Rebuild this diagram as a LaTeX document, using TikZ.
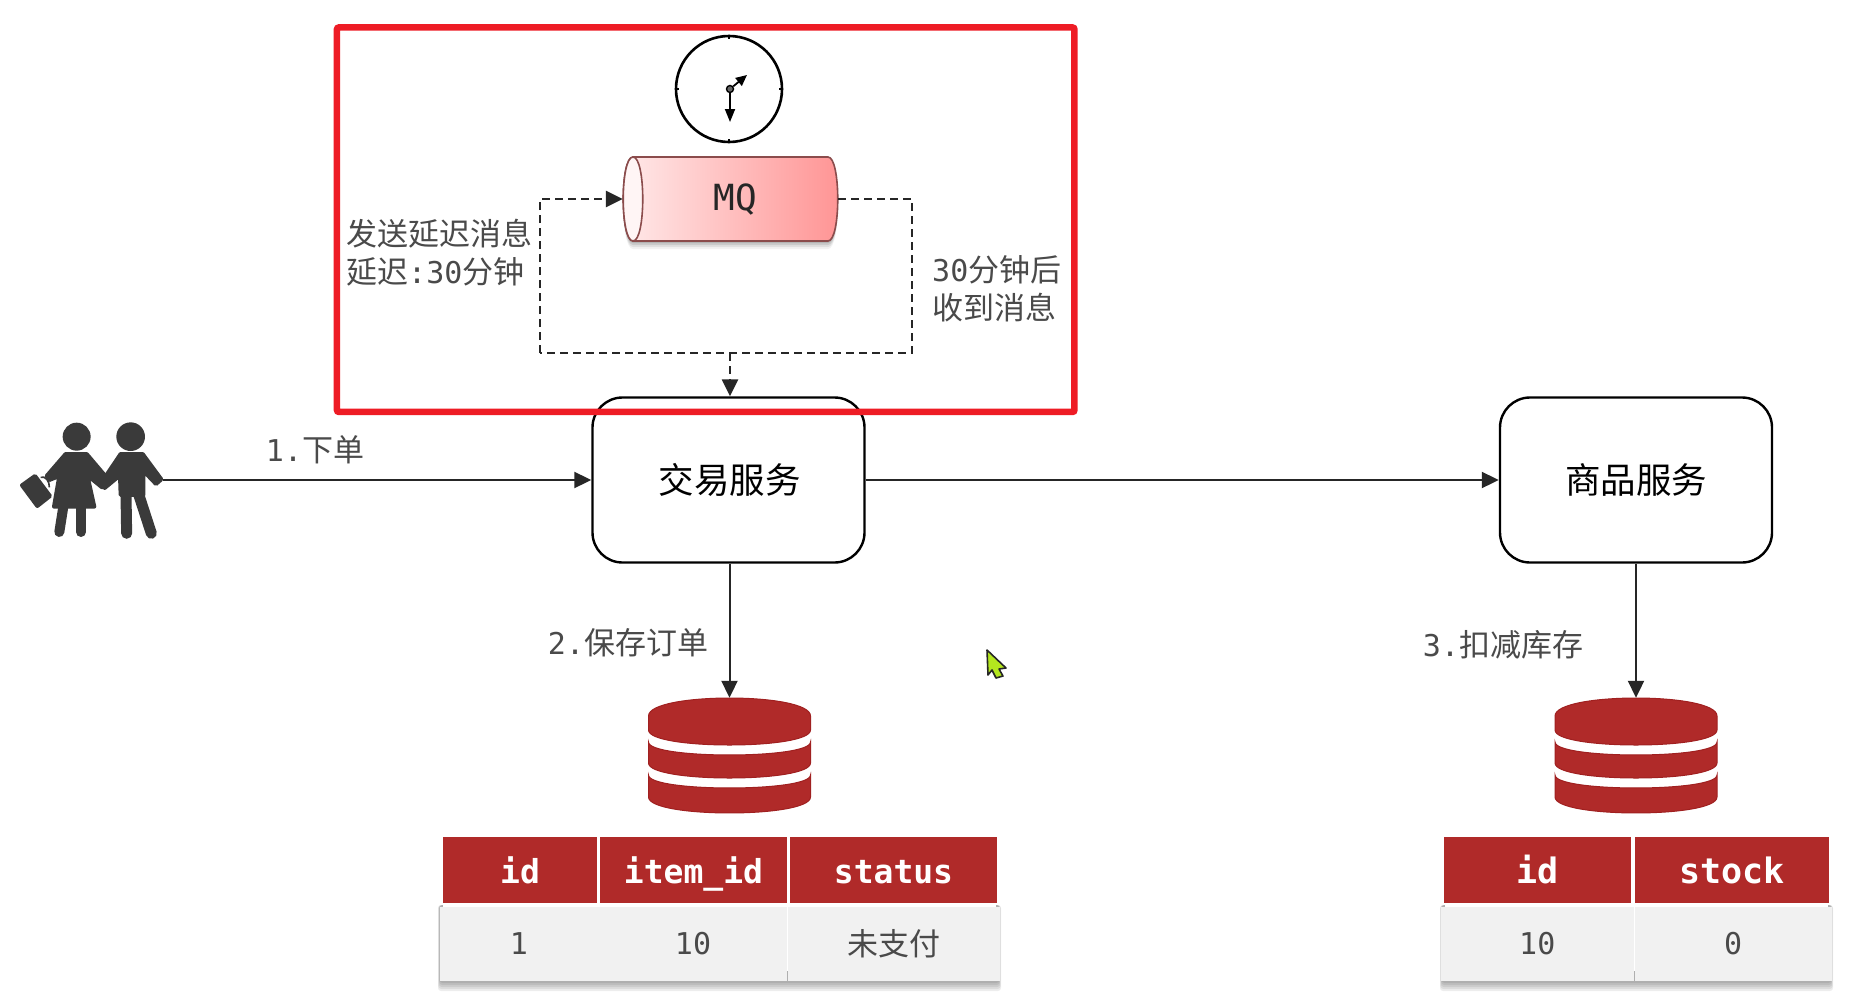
\documentclass[tikz,border=0pt]{standalone}
\usepackage{fontspec}
\setmainfont{Noto Sans CJK SC}
\newfontfamily\monof{DejaVu Sans Mono}
\usetikzlibrary{arrows.meta}
\definecolor{dbred}{HTML}{B02A29}
\definecolor{dbedge}{HTML}{A02020}
\definecolor{framered}{HTML}{EE1C25}
\definecolor{labelgrey}{HTML}{4A4A4A}
\definecolor{rowgrey}{HTML}{F1F1F1}
\definecolor{iconink}{HTML}{3A3A3A}
\definecolor{pointergreen}{HTML}{B4E61E}
\newcommand{\ml}[1]{{\monof\fontsize{30}{36}\selectfont #1}}
\newcommand{\dbshape}{%
  \path[dbslice] (-81,18) .. controls (-81,-6) and (81,-6) .. (81,18) -- (81,32) .. controls (81,52) and (-81,52) .. (-81,32) -- cycle;
  \path[dbslice] (-81,44) .. controls (-81,61.3) and (81,61.3) .. (81,44) -- (81,65) .. controls (81,85) and (-81,85) .. (-81,65) -- cycle;
  \path[dbslice] (-81,77) .. controls (-81,94.3) and (81,94.3) .. (81,77) -- (81,99) .. controls (81,120.3) and (-81,120.3) .. (-81,99) -- cycle;
}
\newcommand{\tblshadow}[4]{%
  \foreach \g in {10,8,6,4,2}{
    \fill[black,opacity=.07,rounded corners=3] (#1+1-\g*.2,#2+68) rectangle (#3-1+\g*.2,#4+\g);
  }
  \fill[white] (#1+4,#2+68) rectangle (#3-4,#4-10);
}
\tikzset{
  x=1pt,y=-1pt,
  service/.style={draw=black,line width=2.4pt,rounded corners=30pt,fill=white,minimum width=272pt,minimum height=165pt,inner sep=0pt,font=\fontsize{35.5}{42}\selectfont},
  flow/.style={draw=black!85,line width=2pt,-{Triangle[length=17pt,width=16pt]}},
  dflow/.style={flow,line width=2.5pt,dash pattern=on 8pt off 5pt},
  dline/.style={draw=black!85,line width=2.5pt,dash pattern=on 8pt off 5pt},
  lbl/.style={text=labelgrey,inner sep=0pt,font=\fontsize{31}{38}\selectfont},
  hcell/.style={fill=dbred,draw=none,text=white,inner sep=0pt,text height=30pt,text depth=3pt,font=\monof\bfseries\fontsize{33}{38}\selectfont},
  hcellb/.style={hcell,font=\monof\bfseries\fontsize{35}{40}\selectfont},
  bcell/.style={fill=rowgrey,draw=none,text=labelgrey,inner sep=0pt,font=\monof\fontsize{30}{36}\selectfont},
  dbslice/.style={fill=dbred,draw=dbedge,line width=1pt},
  ink/.style={fill=iconink,draw=iconink,line width=4pt,line join=round},
  limb/.style={draw=iconink,line cap=round},
}
\begin{document}
\begin{tikzpicture}
\useasboundingbox (0,0) rectangle (1861,996);
\fill[white] (0,0) rectangle (1861,996);

% services
\node[service] (trade) at (728.5,480) {\hspace{2pt}\raisebox{2.5pt}{交易服务}};
\node[service] (item) at (1636,480) {\raisebox{2.5pt}{商品服务}};

% red frame
\node[draw=framered,line width=6.5pt,rounded corners=2pt,minimum width=737.5pt,minimum height=384.5pt,inner sep=0pt] (frame) at (705.7,219.7) {};

% clock
\node[circle,draw=black,line width=2.6pt,minimum size=106pt,inner sep=0pt] (clock) at (729,89) {};
\draw[line width=1.2pt] (clock.north) -- ++(0,4);
\draw[line width=1.2pt] (clock.south) -- ++(0,-4);
\draw[line width=1.2pt] (clock.west) -- ++(4,0);
\draw[line width=1.2pt] (clock.east) -- ++(-4,0);
\node[circle,draw=black,fill=black!60,line width=1.4pt,minimum size=7pt,inner sep=0pt] (pivot) at (730,89) {};
\coordinate (hourtip) at (747,75);
\coordinate (minutetip) at (730,122);
\draw[line width=1.8pt,-{Triangle[length=11pt,width=10pt]}] (pivot) -- (hourtip);
\draw[line width=1.8pt,-{Triangle[length=13pt,width=10pt]}] (pivot) -- (minutetip);

% MQ cylinder
\foreach \d/\o in {8/.05,6/.07,4/.09,2/.11}{
  \fill[black,opacity=\o] (633,157+\d) -- (828,157+\d) .. controls (841,157+\d) and (841,241+\d) .. (828,241+\d) -- (633,241+\d) .. controls (620,241+\d) and (620,157+\d) .. (633,157+\d) -- cycle;
}
\path[left color=red!8,right color=red!42!white,draw=red!35!black!70,line width=1.6pt]
  (633,157) -- (828,157) .. controls (841,157) and (841,241) .. (828,241) -- (633,241) .. controls (620,241) and (620,157) .. (633,157) -- cycle;
\path[fill=red!4,draw=red!35!black!70,line width=1.6pt]
  (633,157) .. controls (646,157) and (646,241) .. (633,241) .. controls (620,241) and (620,157) .. (633,157) -- cycle;
\node[minimum width=215pt,minimum height=84pt,inner sep=0pt] (mq) at (730.5,199) {};
\node[inner sep=0pt,text=black!85,font=\monof\fontsize{36}{40}\selectfont] (mqtext) at (735,200) {MQ};

% dashed loop
\coordinate (loopL) at (540,353);
\coordinate (loopR) at (912,353);
\coordinate (loopM) at (730,353);
\draw[dflow] (loopL) -- (loopL |- mq.west) -- (mq.west);
\draw[dline] (mq.east) -- (loopR |- mq.east) -- (loopR) -- (loopL);
\draw[dflow] (loopM) -- (trade.north -| loopM);

% labels in frame
\node[lbl,align=left,anchor=north west] (sendlbl) at (346,219) {发送延迟消息\\延迟\ml{:30}分钟};
\node[lbl,align=left,anchor=north west] (recvlbl) at (932,255) {\ml{30}分钟后\\收到消息};

% person icon
\begin{scope}[shift={(0,400)},x=0.3333pt,y=-0.3333pt]
  \fill[iconink] (230,110) circle (42);
  \fill[iconink] (392,110) circle (43);
  \path[ink] (197,162) -- (260,162) -- (316,228) -- (306,262) -- (262,226) -- (283,320) -- (162,320) -- (178,228) -- (148,240) -- (140,228) -- cycle;
  \draw[limb,line width=10pt] (190,320) -- (178,396);
  \draw[limb,line width=10pt] (243,320) -- (243,396);
  \path[ink] (362,162) -- (428,162) -- (484,238) -- (468,252) -- (430,212) -- (430,285) -- (362,285) -- (360,226) -- (314,264) -- (304,248) -- cycle;
  \draw[limb,line width=11pt] (378,280) -- (380,400);
  \draw[limb,line width=11pt] (415,280) -- (454,400);
  \path[ink] (105,228) -- (150,288) -- (112,318) -- (66,256) -- cycle;
  \draw[draw=iconink,line width=1.6pt] (122,232) .. controls (135,226) and (150,245) .. (148,262);
\end{scope}
\coordinate (person) at (163,480);

% arrows
\draw[flow] (person) -- (trade.west);
\draw[flow] (trade.east) -- (item.west);
\node[lbl] (l1) at (315,450) {\ml{1.}下单};

% databases
\node[minimum width=162pt,minimum height=115pt,inner sep=0pt] (db1) at (729.5,755.5) {};
\node[minimum width=162pt,minimum height=115pt,inner sep=0pt] (db2) at (1636,755.5) {};
\begin{scope}[shift={(729.5,698)}]\dbshape\end{scope}
\begin{scope}[shift={(1636,698)}]\dbshape\end{scope}
\draw[flow] (trade.south -| db1) -- (db1.north);
\draw[flow] (item.south) -- (db2.north);
\node[lbl] (l2) at (628,643) {\ml{2.}保存订单};
\node[lbl] (l3) at (1503,645) {\ml{3.}扣减库存};

% table 1
\tblshadow{439}{837}{1000}{981}
\node[hcell,minimum width=154pt,minimum height=66pt] (a1) at (520,870) {id};
\node[hcell,minimum width=187pt,minimum height=66pt] (a2) at (693.5,870) {item\_id};
\node[hcell,minimum width=207pt,minimum height=66pt] (a3) at (893.5,870) {status};
\node[bcell,minimum width=159pt,minimum height=74pt] (b1) at (519,944) {1};
\node[bcell,minimum width=188pt,minimum height=74pt] (b2) at (693,944) {10};
\node[bcell,minimum width=212pt,minimum height=74pt,font=\fontsize{31}{36}\selectfont] (b3) at (894,944) {未支付};

% table 2
\tblshadow{1441}{837}{1832}{981}
\node[hcellb,minimum width=187pt,minimum height=66pt] (c1) at (1537.5,870) {id};
\node[hcellb,minimum width=194pt,minimum height=66pt] (c2) at (1732,870) {stock};
\node[bcell,minimum width=192.5pt,minimum height=74pt] (d1) at (1537.25,944) {10};
\node[bcell,minimum width=197.5pt,minimum height=74pt] (d2) at (1733.25,944) {0};

% pointer
\path[fill=pointergreen,draw=black!85,line width=1.6pt,line join=round]
  (987,650) -- (1006,668) -- (999,669) -- (1003,676) -- (996,678) -- (992,670) -- (988,675) -- cycle;
\end{tikzpicture}
\end{document}
